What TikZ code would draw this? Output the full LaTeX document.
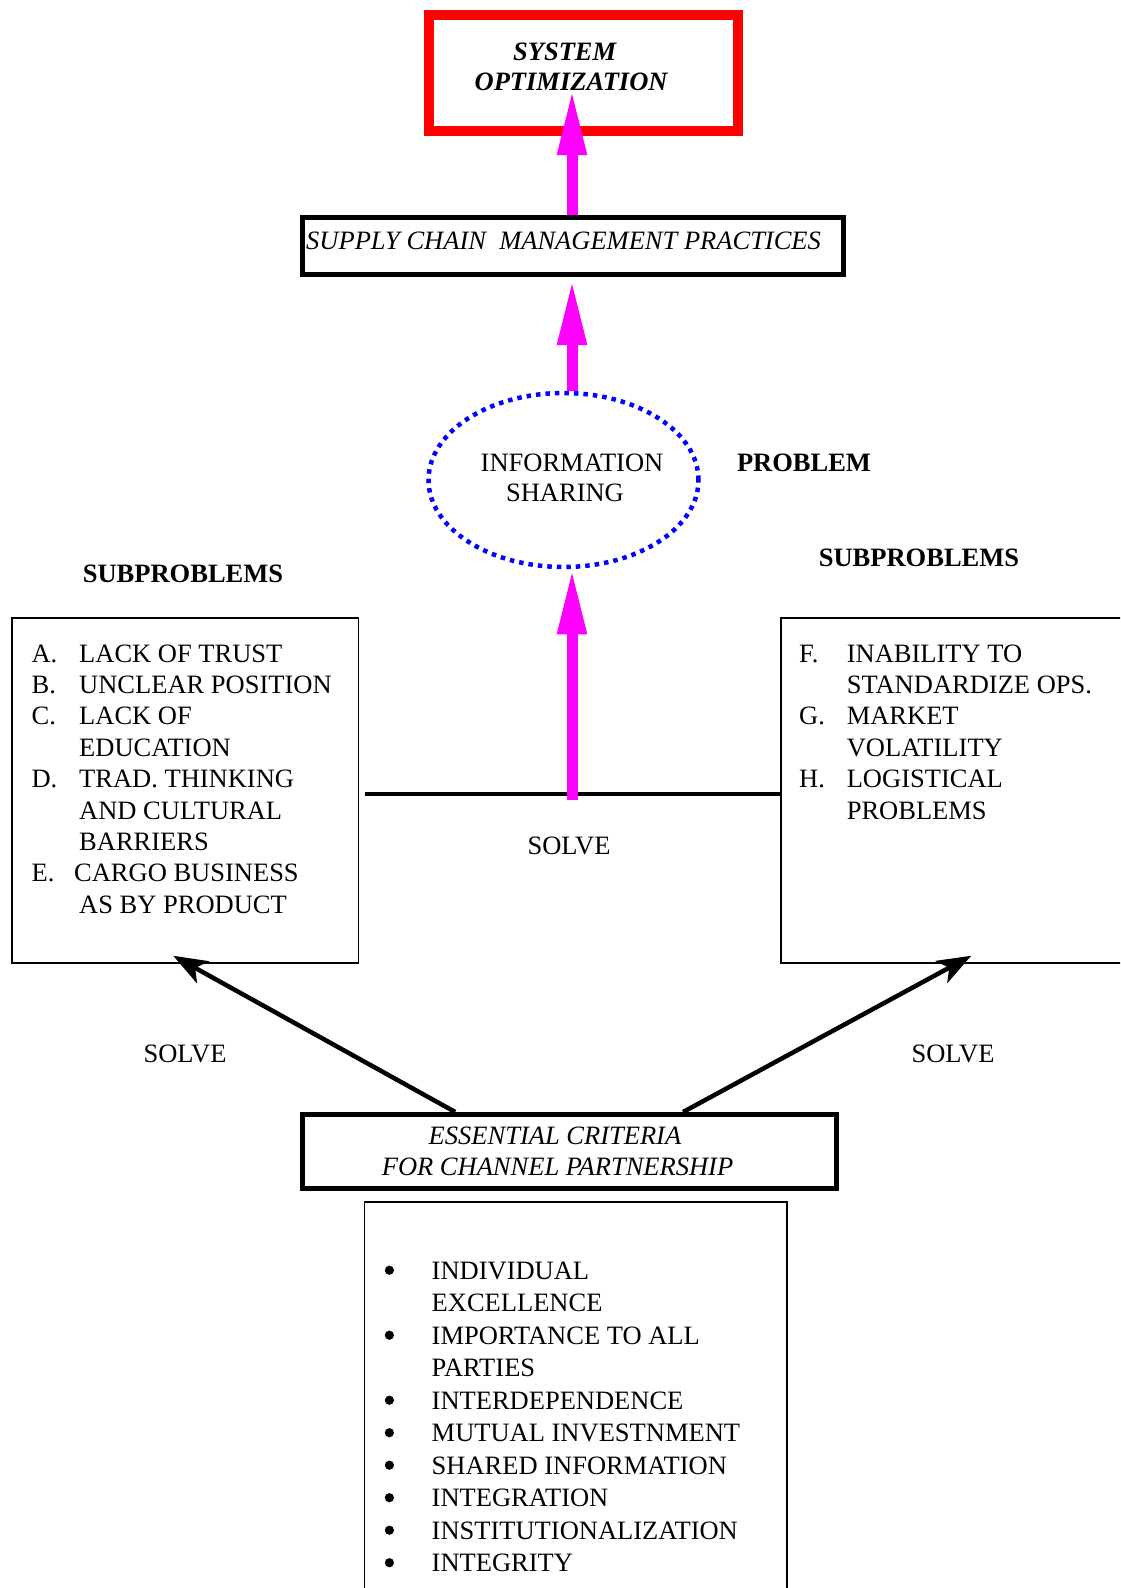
\documentclass[tikz,border=0pt]{standalone}
\usepackage{fontspec}
\setmainfont{Liberation Serif}
\usetikzlibrary{arrows.meta,shapes.geometric,calc}
\definecolor{mag}{HTML}{FF00FF}
\definecolor{redbox}{HTML}{FF0000}
\definecolor{bluedot}{HTML}{0000FF}
\tikzset{
  txt/.style={inner sep=0pt, font=\fontsize{26.5}{31.4}\selectfont},
  thinbox/.style={draw, line width=1.5pt, inner sep=0pt},
  thickbox/.style={draw, line width=5pt, inner sep=0pt},
  magarrow/.style={draw=mag, line width=11pt, -{Triangle[length=66pt,width=27pt]}},
  blkarrow/.style={draw=black, line width=4.5pt, -{Stealth[length=34pt,width=25pt,inset=9pt]}},
}
\begin{document}
\begin{tikzpicture}[x=1pt,y=-1pt]
\useasboundingbox (0,0) rectangle (1120,1588);
\clip (0,0) rectangle (1120,1588);
\fill[white] (0,0) rectangle (1120,1588);

% top red box
\node[draw=redbox, line width=9.5pt, minimum width=309pt, minimum height=116pt, inner sep=0pt] (sysbox) at (583.5,73) {};
\node[txt, anchor=base] (sys1) at (565,60) {\textbf{\textit{SYSTEM}}};
\node[txt, anchor=base] (sys2) at (571.5,90) {\textbf{\textit{OPTIMIZATION}}};

% SCM box
\node[thickbox, minimum width=541pt, minimum height=57pt] (scm) at (572.5,246) {};
\node[txt, anchor=base west] (scmtext) at (306,249) {\textit{SUPPLY CHAIN\ \ MANAGEMENT PRACTICES}};

% ellipse
\node[ellipse, draw=bluedot, line width=4.5pt, dash pattern=on 4.5pt off 5pt, minimum width=270pt, minimum height=174pt, inner sep=0pt] (info) at (563.5,480) {};
\node[txt, anchor=base] (info1) at (572,471) {INFORMATION};
\node[txt, anchor=base] (info2) at (565,501) {SHARING};

\node[txt, anchor=base] (problem) at (804,471) {\textbf{PROBLEM}};
\node[txt, anchor=base] (subl) at (183,582) {\textbf{SUBPROBLEMS}};
\node[txt, anchor=base] (subr) at (919,566) {\textbf{SUBPROBLEMS}};

% left and right boxes
\node[thinbox, minimum width=346.5pt, minimum height=345pt] (lbox) at (185.25,790.5) {};
\node[thinbox, minimum width=349pt, minimum height=345pt] (rbox) at (955.5,790.5) {};

\node[txt, anchor=base west] (ltext) at (31.4,662) {\begin{tabular}[t]{@{}p{47.6pt}@{}l@{}}
A. & LACK OF TRUST\\
B. & UNCLEAR POSITION\\
C. & LACK OF\\
   & EDUCATION\\
D. & TRAD. THINKING\\
   & AND CULTURAL\\
   & BARRIERS\\
E. & \hspace*{-5pt}CARGO BUSINESS\\
   & AS BY PRODUCT
\end{tabular}};

\node[txt, anchor=base west] (rtext) at (799,662) {\begin{tabular}[t]{@{}p{47.6pt}@{}l@{}}
F. & INABILITY TO\\
   & STANDARDIZE OPS.\\
G. & MARKET\\
   & VOLATILITY\\
H. & LOGISTICAL\\
   & PROBLEMS
\end{tabular}};

% horizontal line
\coordinate (hl) at (364.5,794);
\draw[line width=4.5pt] (hl) -- (hl -| rbox.west);

\node[txt, anchor=base] (solvem) at (569,854) {SOLVE};
\node[txt, anchor=base] (solvel) at (185,1062) {SOLVE};
\node[txt, anchor=base] (solver) at (953,1062) {SOLVE};

% criteria box
\node[thickbox, minimum width=534pt, minimum height=74pt] (crit) at (569,1151.5) {};
\node[txt, anchor=base] (crit1) at (555,1144) {\textit{ESSENTIAL CRITERIA}};
\node[txt, anchor=base] (crit2) at (557.5,1175.5) {\textit{FOR CHANNEL PARTNERSHIP}};

% bottom list box
\node[thinbox, minimum width=422.5pt, minimum height=398pt] (lst) at (575.75,1401) {};
\node[inner sep=0pt, font=\fontsize{26.5}{32.5}\selectfont, anchor=base west] (lsttext) at (431.5,1279) {\begin{tabular}[t]{@{}l@{}}
INDIVIDUAL\\
EXCELLENCE\\
IMPORTANCE TO ALL\\
PARTIES\\
INTERDEPENDENCE\\
MUTUAL INVESTNMENT\\
SHARED INFORMATION\\
INTEGRATION\\
INSTITUTIONALIZATION\\
INTEGRITY
\end{tabular}};
\foreach \k in {0,2,4,5,6,7,8,9}
  \fill (389.4,1270.2+32.5*\k) circle (4.6pt);

% magenta arrows
\coordinate (ax) at (572,0);
\coordinate (t1) at ([yshift=1pt]sys2.base);
\draw[magarrow] (scm.north -| ax) -- (t1 -| ax);
\coordinate (t2) at ([yshift=-2pt]scm.south);
\draw[magarrow] (info.north -| ax) -- (t2 -| ax);
\coordinate (a3) at (572,800);
\coordinate (t3) at ([yshift=1pt]info.south);
\draw[magarrow] (a3) -- (t3 -| ax);

% black arrows
\draw[blkarrow] ([xshift=155.7pt]crit.north west) -- ([xshift=162pt,yshift=8pt]lbox.south west);
\draw[blkarrow] ([xshift=383.6pt]crit.north west) -- ([xshift=191pt,yshift=8pt]rbox.south west);
\end{tikzpicture}
\end{document}
